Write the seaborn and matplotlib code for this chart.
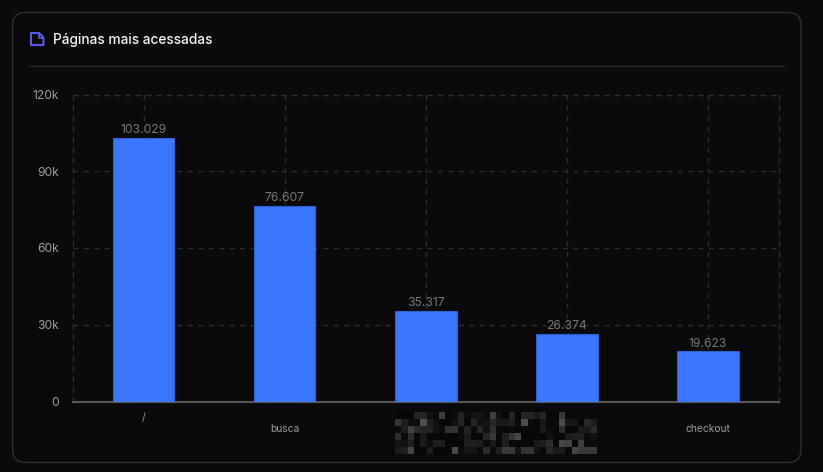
import numpy as np
import pandas as pd
import matplotlib
matplotlib.use('Agg')
import matplotlib.pyplot as plt
import seaborn as sns
from matplotlib.patches import FancyBboxPatch, Polygon
from matplotlib.lines import Line2D

# Chart data
pages = ['/', 'busca', 'pagina-3', 'pagina-4', 'checkout']
visits = [103029, 76607, 35317, 26374, 19623]
value_labels = ['103.029', '76.607', '35.317', '26.374', '19.623']
shown_names = ['/', 'busca', '', '', 'checkout']
y_ticks = [0, 30000, 60000, 90000, 120000]
y_tick_labels = ['0', '30k', '60k', '90k', '120k']
title = 'Páginas mais acessadas'

# Gray levels of the blurred label block
mosaic = [
    [8, 8, 8, 42, 42, 20, 14, 70, 10, 12, 40, 14, 24, 24, 14, 72, 20, 8, 40, 8, 42, 44, 30, 42, 8, 8, 62, 12, 12, 12, 12, 12],
    [60, 35, 14, 14, 90, 34, 20, 10, 10, 20, 40, 10, 44, 20, 24, 44, 30, 30, 36, 12, 88, 14, 10, 26, 10, 12, 86, 26, 26, 8, 46, 30],
    [14, 34, 74, 50, 40, 40, 20, 14, 58, 58, 14, 40, 14, 44, 20, 54, 12, 10, 12, 8, 10, 10, 10, 30, 14, 8, 52, 10, 10, 30, 30, 50],
    [50, 12, 50, 10, 30, 10, 10, 10, 10, 10, 12, 30, 10, 10, 44, 62, 10, 38, 62, 80, 10, 10, 10, 10, 20, 10, 10, 32, 38, 38, 14, 22],
    [22, 22, 34, 10, 30, 14, 34, 34, 10, 10, 10, 34, 34, 34, 14, 30, 10, 34, 10, 10, 10, 10, 30, 36, 52, 10, 80, 76, 10, 72, 14, 14],
    [32, 36, 80, 10, 10, 32, 10, 10, 10, 84, 14, 24, 24, 12, 50, 12, 34, 66, 66, 22, 60, 60, 22, 10, 44, 30, 30, 10, 80, 66, 66, 66],
]

sns.set_theme(style='dark')
plt.rcParams['font.family'] = ['Inter', 'DejaVu Sans']

bg = '#0a0a0b'
W, H = 823, 472
fig = plt.figure(figsize=(W / 100, H / 100), dpi=100, facecolor=bg)

# Card and header, placed in pixels
page = fig.add_axes([0, 0, 1, 1], zorder=0)
page.set_xlim(0, W)
page.set_ylim(H, 0)
page.axis('off')
page.add_patch(FancyBboxPatch((12.5, 12.5), 788.5, 450, boxstyle='round,pad=0,rounding_size=13',
                              facecolor=bg, edgecolor='#2e2e30', linewidth=1))
page.add_line(Line2D([29, 784], [65.5, 65.5], color='#2b2b2d', linewidth=1))
page.add_patch(Polygon([(31, 33), (39, 33), (43.5, 37.5), (43.5, 45), (31, 45)], closed=True,
                       fill=False, edgecolor='#5a5ae6', linewidth=1.5, joinstyle='round'))
page.add_line(Line2D([39, 39, 43.5], [33, 37.5, 37.5], color='#5a5ae6', linewidth=1.2))
page.text(53, 40, title, color='#f4f4f5', fontsize=9.9, va='center', ha='left', fontweight='medium')

# Blurred label block
page.imshow(np.array(mosaic), cmap='gray', vmin=0, vmax=290, interpolation='nearest',
            extent=(395, 597, 454, 412), aspect='auto', zorder=2)
page.set_xlim(0, W)
page.set_ylim(H, 0)

# Bars
df = pd.DataFrame({'page': pages, 'visits': visits})
ax = fig.add_axes([73.2 / W, 1 - 401.5 / H, 705.3 / W, 307 / H], zorder=1)
ax.patch.set_alpha(0)
sns.barplot(data=df, x='page', y='visits', order=pages, color='#3b76ff', saturation=1,
            width=0.435, edgecolor='#2f5fd0', linewidth=0.8, ax=ax, zorder=3)
ax.set_xlim(-0.5, 4.5)
ax.set_ylim(0, 120000)
ax.set_xlabel('')
ax.set_ylabel('')

ax.grid(True, axis='both', color='#2c2c2e', linestyle=(0, (3.5, 4)), linewidth=1)
ax.set_axisbelow(True)
for side in ['left', 'right', 'top']:
    ax.spines[side].set_color('#2c2c2e')
    ax.spines[side].set_linestyle((0, (3.5, 4)))
    ax.spines[side].set_linewidth(1)
ax.spines['bottom'].set_color('#58585a')
ax.spines['bottom'].set_linewidth(1.5)

ax.set_yticks(y_ticks)
ax.set_yticklabels(y_tick_labels)
ax.tick_params(axis='y', length=0, pad=10, labelsize=8.7, labelcolor='#9a9a9d')
ax.set_xticks(range(len(pages)))
ax.set_xticklabels(shown_names)
ax.tick_params(axis='x', length=0, pad=16, labelsize=7.4, labelcolor='#9a9a9d')
ax.get_xticklabels()[0].set_y(0.035)

ax.bar_label(ax.containers[0], labels=value_labels, padding=1.2, fontsize=8.7, color='#77777a')

fig.savefig('out.png', dpi=100, facecolor=bg)
